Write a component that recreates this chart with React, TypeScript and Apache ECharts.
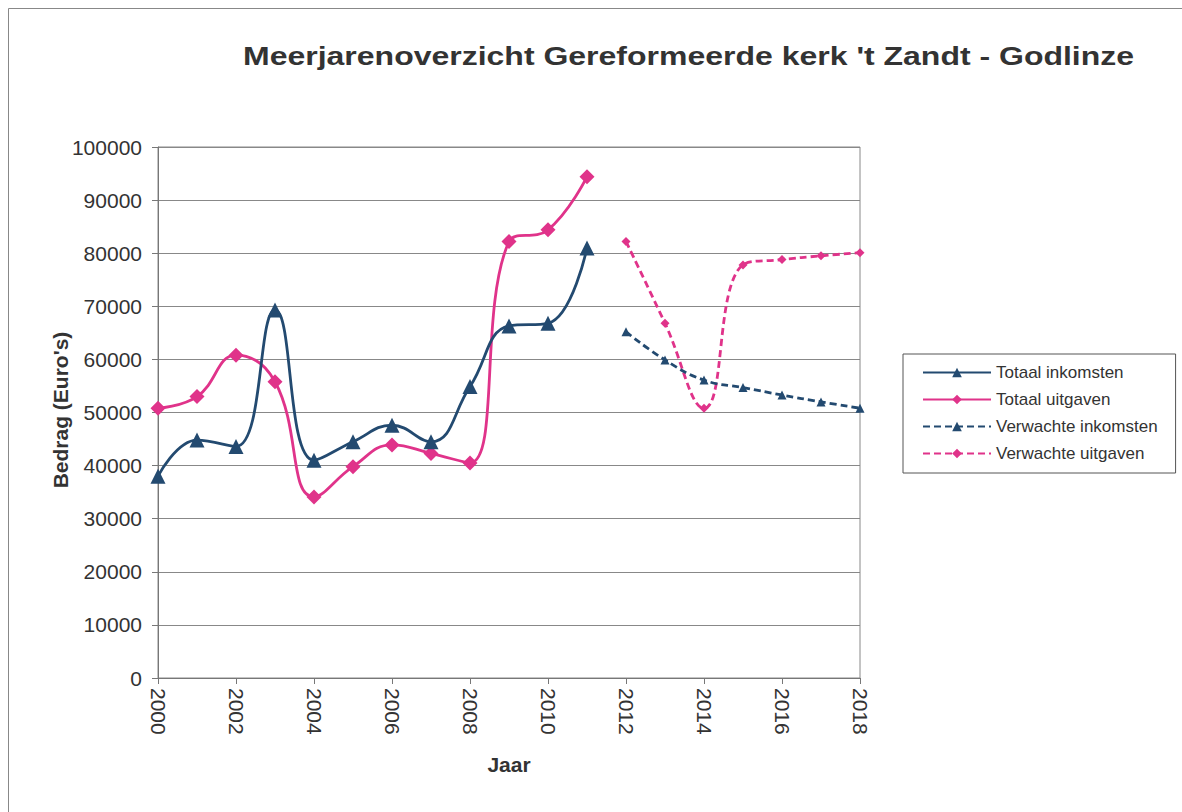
import React, { useEffect, useRef } from "react";
import * as echarts from "echarts";

const yearsActual = [2000, 2001, 2002, 2003, 2004, 2005, 2006, 2007, 2008, 2009, 2010, 2011];
const yearsForecast = [2012, 2013, 2014, 2015, 2016, 2017, 2018];
const totaalInkomsten = [38000, 44800, 43600, 69300, 41000, 44500, 47600, 44500, 54900, 66300, 66800, 81000];
const totaalUitgaven = [50800, 53000, 60800, 55800, 34100, 39800, 43900, 42300, 40500, 82200, 84400, 94400];
const verwachteInkomsten = [65200, 59900, 56100, 54700, 53300, 52000, 50800];
const verwachteUitgaven = [82200, 66800, 50800, 77800, 78800, 79500, 80100];
const seriesNames = ["Totaal inkomsten", "Totaal uitgaven", "Verwachte inkomsten", "Verwachte uitgaven"];
const titleText = "Meerjarenoverzicht Gereformeerde kerk 't Zandt - Godlinze";
const yAxisTitle = "Bedrag (Euro's)";

const NAVY = "#234a70";
const PINK = "#e0338a";
const FONT = "'Liberation Sans', Arial, sans-serif";

const pair = (xs: number[], ys: number[]) => xs.map((x, i) => [x, ys[i]]);

export default function App() {
  const ref = useRef<HTMLDivElement>(null);
  useEffect(() => {
    if (!ref.current) return;
    const chart = echarts.init(ref.current, undefined, { renderer: "svg" });
    chart.setOption({
      animation: false,
      backgroundColor: "#fff",
      textStyle: { fontFamily: FONT },
      graphic: [
        {
          type: "rect",
          shape: { x: 8.5, y: 8.5, width: 1180, height: 810 },
          style: { fill: "none", stroke: "#888", lineWidth: 1 },
          silent: true,
        },
        {
          type: "text",
          x: 243,
          y: 44,
          scaleX: 1.28,
          style: {
            text: titleText,
            fontSize: 25,
            fontWeight: "bold",
            fill: "#333",
            fontFamily: FONT,
          },
          silent: true,
        },
        {
          type: "text",
          x: 60,
          y: 410,
          rotation: Math.PI / 2,
          style: {
            text: yAxisTitle,
            fontSize: 21,
            fontWeight: "bold",
            fill: "#333",
            fontFamily: FONT,
            align: "center",
            verticalAlign: "middle",
          },
          silent: true,
        },
      ],
      legend: {
        orient: "vertical",
        left: 903,
        top: 354,
        padding: [10, 18, 11, 19],
        itemWidth: 68,
        itemHeight: 12,
        itemGap: 10,
        borderColor: "#555",
        borderWidth: 1,
        textStyle: { fontSize: 17, color: "#333", fontFamily: FONT },
        data: seriesNames,
      },
      grid: { left: 158, top: 147, right: 322, bottom: 134, show: true, borderColor: "#888", borderWidth: 1 },
      xAxis: {
        type: "value",
        min: 2000,
        max: 2018,
        interval: 2,
        name: "Jaar",
        nameLocation: "middle",
        nameGap: 76,
        nameTextStyle: { fontSize: 21, fontWeight: "bold", color: "#333", fontFamily: FONT },
        axisLine: { show: true, lineStyle: { color: "#777" } },
        axisTick: { show: true, inside: false, length: 6, lineStyle: { color: "#777" } },
        splitLine: { show: false },
        axisLabel: {
          rotate: -90,
          fontSize: 21,
          color: "#333",
          margin: 10,
          fontFamily: FONT,
          formatter: (v: number) => String(v),
        },
      },
      yAxis: {
        type: "value",
        min: 0,
        max: 100000,
        interval: 10000,
        axisLine: { show: true, lineStyle: { color: "#777" } },
        axisTick: { show: true, inside: false, length: 6, lineStyle: { color: "#777" } },
        splitLine: { show: true, lineStyle: { color: "#888", width: 1 } },
        axisLabel: {
          fontSize: 21,
          color: "#333",
          margin: 16,
          fontFamily: FONT,
          formatter: (v: number) => String(v),
        },
      },
      series: [
        {
          name: seriesNames[0],
          type: "line",
          smooth: 0.45,
          data: pair(yearsActual, totaalInkomsten),
          symbol: "triangle",
          symbolSize: 15,
          lineStyle: { color: NAVY, width: 2.8 },
          itemStyle: { color: NAVY },
          z: 3,
        },
        {
          name: seriesNames[1],
          type: "line",
          smooth: 0.45,
          data: pair(yearsActual, totaalUitgaven),
          symbol: "diamond",
          symbolSize: 15,
          lineStyle: { color: PINK, width: 2.8 },
          itemStyle: { color: PINK },
          z: 2,
        },
        {
          name: seriesNames[2],
          type: "line",
          smooth: 0.45,
          data: pair(yearsForecast, verwachteInkomsten),
          symbol: "triangle",
          symbolSize: 9,
          lineStyle: { color: NAVY, width: 2.8, type: [7, 4] },
          itemStyle: { color: NAVY },
          z: 3,
        },
        {
          name: seriesNames[3],
          type: "line",
          smooth: 0.45,
          data: pair(yearsForecast, verwachteUitgaven),
          symbol: "diamond",
          symbolSize: 9,
          lineStyle: { color: PINK, width: 2.8, type: [7, 4] },
          itemStyle: { color: PINK },
          z: 2,
        },
      ],
    });
    return () => chart.dispose();
  }, []);
  return (
    <div
      ref={ref}
      style={{ position: "absolute", left: 0, top: 0, width: 1182, height: 812 }}
    />
  );
}
